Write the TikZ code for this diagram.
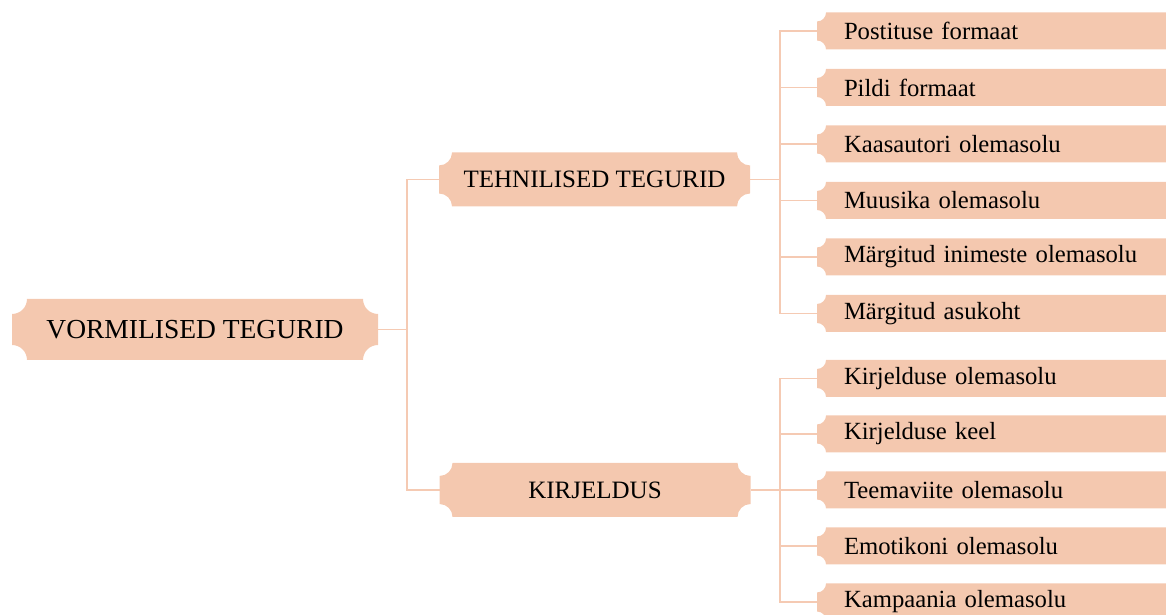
\documentclass[tikz,border=0pt]{standalone}
\usepackage{fontspec}
\setmainfont{Liberation Serif}
\usetikzlibrary{calc,backgrounds}
\definecolor{boxfill}{HTML}{F4C8AF}
\definecolor{linecol}{HTML}{F5CAB3}
\tikzset{
  base/.style={inner sep=0pt, outer sep=0pt, text=black},
  rootbox/.style={base, minimum width=366pt, minimum height=61pt, font=\fontsize{27.5}{32}\selectfont},
  midbox/.style={base, minimum width=311pt, minimum height=54pt, font=\fontsize{25}{30}\selectfont},
  leafbox/.style={base, anchor=west, minimum height=37pt, inner xsep=27pt, text width=330pt, align=left, font=\fontsize{24.7}{29}\selectfont},
  conn/.style={draw=linecol, line width=1.3pt},
}
\newcommand\notchfill[2]{%
  \fill[boxfill] let \p1=(#1.north west), \p2=(#1.south east) in
    (\x1+#2pt,\y1) -- (\x2-#2pt,\y1) arc[start angle=180,end angle=270,radius=#2pt]
    -- (\x2,\y2+#2pt) arc[start angle=90,end angle=180,radius=#2pt]
    -- (\x1+#2pt,\y2) arc[start angle=0,end angle=90,radius=#2pt]
    -- (\x1,\y1-#2pt) arc[start angle=270,end angle=360,radius=#2pt] -- cycle;}
\begin{document}
\begin{tikzpicture}[x=1pt,y=1pt]
\useasboundingbox (0,0) rectangle (1166,615);
% nodes
\node[rootbox] (root) at (195,285.5) {VORMILISED TEGURID};
\node[midbox] (teh) at (594.5,435.5) {TEHNILISED TEGURID};
\node[midbox] (kir) at (595,125) {KIRJELDUS};
\node[leafbox] (l1) at (817,584) {Postituse formaat};
\node[leafbox] (l2) at (817,527.5) {Pildi formaat};
\node[leafbox] (l3) at (817,471) {Kaasautori olemasolu};
\node[leafbox] (l4) at (817,414.5) {Muusika olemasolu};
\node[leafbox] (l5) at (817,358) {Märgitud inimeste olemasolu};
\node[leafbox] (l6) at (817,301.5) {Märgitud asukoht};
\node[leafbox] (k1) at (817,236.5) {Kirjelduse olemasolu};
\node[leafbox] (k2) at (817,181) {Kirjelduse keel};
\node[leafbox] (k3) at (817,125) {Teemaviite olemasolu};
\node[leafbox] (k4) at (817,69) {Emotikoni olemasolu};
\node[leafbox] (k5) at (817,13) {Kampaania olemasolu};
\coordinate (j1) at (407,285.5);
\coordinate (j2) at (780,435.5);
\coordinate (j3) at (780,125);
\begin{pgfonlayer}{background}
  \clip (0,0) rectangle (1166,615);
  \draw[conn] (root.east) -- (j1);
  \draw[conn] (j1) |- (teh.west);
  \draw[conn] (j1) |- (kir.west);
  \draw[conn] (teh.east) -- (j2);
  \foreach \nm in {l1,l2,l3,l4,l5,l6} {\draw[conn] (j2) |- (\nm.west);}
  \draw[conn] (kir.east) -- (j3);
  \foreach \nm in {k1,k2,k3,k4,k5} {\draw[conn] (j3) |- (\nm.west);}
  \notchfill{root}{15}
  \notchfill{teh}{13}
  \notchfill{kir}{13}
  \foreach \nm in {l1,l2,l3,l4,l5,l6,k1,k2,k3,k4,k5} {\notchfill{\nm}{9}}
\end{pgfonlayer}
\end{tikzpicture}
\end{document}
